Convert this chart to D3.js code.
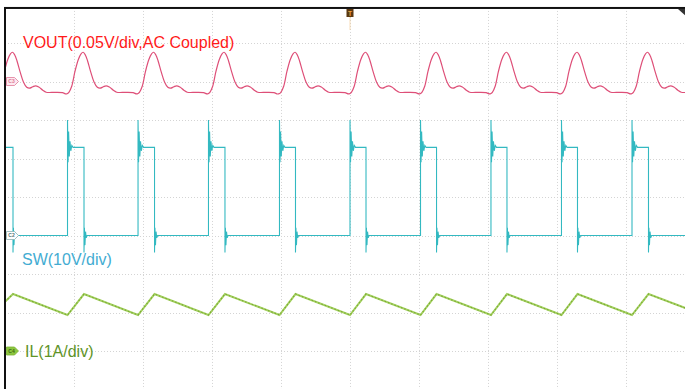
<!DOCTYPE html>
<html><head><meta charset="utf-8">
<script src="https://cdn.jsdelivr.net/npm/d3@7"></script>
<style>body{margin:0;background:#fff;overflow:hidden} svg{display:block}</style>
</head><body><svg id="c" width="685" height="389"></svg>
<script>
// time in divisions (10 div across the screen), amplitudes in channel units
const risingEdges  = [-0.117, 0.906, 1.928, 2.949, 3.978, 5.000, 6.022, 7.043, 8.065, 9.087];
const fallingEdges = [0.116, 1.145, 2.167, 3.188, 4.210, 5.232, 6.254, 7.275, 8.297, 9.326];
// SW (V): levels and ringing
const swLow = 0, swHigh = 22.9;
const swRiseRing = [[0,0],[0,30],[0.008,19],[0.016,27],[0.026,20.5],[0.036,24.5],[0.048,22],[0.062,23.4],[0.08,22.9]];
const swFallRing = [[0,22.9],[0,-4.4],[0.006,2],[0.014,-2.5],[0.022,1],[0.032,-0.6],[0.045,0]];
// VOUT (mV, AC coupled) shape of one switching period after each rising edge
const voutShape = [[0,-15.6],[0.02,-14],[0.061,-6.1],[0.109,13.4],[0.157,28.6],[0.196,36],[0.226,38],[0.258,34.5],[0.29,27],[0.336,12.5],[0.384,-0.5],[0.432,-7.5],[0.471,-8.7],[0.519,-6.9],[0.558,-5.6],[0.606,-7.2],[0.664,-11.3],[0.713,-13.9],[0.841,-14.1],[0.949,-14.5],[1.0,-16.2]];
// IL (A) corner points
const ilPoints = [[0,1.28],[0.116,1.48],[0.906,0.935],[1.145,1.48],[1.928,0.935],[2.167,1.48],[2.949,0.935],[3.188,1.48],[3.978,0.935],[4.210,1.48],[5.000,0.935],[5.232,1.48],[6.022,0.935],[6.254,1.48],[7.043,0.935],[7.275,1.48],[8.065,0.935],[8.297,1.48],[9.087,0.935],[9.326,1.48],[10,1.02]];
const channels = ["C3","C2","C4"];
const channelOffsets = [1, 5, 8];       // marker position, divisions from the top gridline
const channelPerDiv = [50, 10, 1];      // mV/div, V/div, A/div
const labels = ["VOUT(0.05V/div,AC Coupled)", "SW(10V/div)", "IL(1A/div)"];

const svg = d3.select("#c");
const x = d3.scaleLinear().domain([0, 10]).range([5, 695]);
const gridY = d3.scaleLinear().domain([0, 8]).range([43, 351]);
const chY = i => v => gridY(channelOffsets[i] - v / channelPerDiv[i]);

const frameTop = gridY(-0.91), frameBottom = gridY(9.93);
svg.append("clipPath").attr("id","clip").append("rect")
  .attr("x", x(0)).attr("y", frameTop).attr("width", x(10)-x(0)).attr("height", frameBottom-frameTop);

// grid
const g = svg.append("g");
g.selectAll("line.v").data(d3.range(1,10)).join("line")
  .attr("x1", d => Math.round(x(d))+0.5).attr("x2", d => Math.round(x(d))+0.5)
  .attr("y1", frameTop).attr("y2", frameBottom)
  .attr("stroke", "#d4d4d4").attr("stroke-dasharray", "1,2");
g.selectAll("line.h").data(d3.range(0,9)).join("line")
  .attr("y1", d => Math.round(gridY(d))+0.5).attr("y2", d => Math.round(gridY(d))+0.5)
  .attr("x1", x(0)).attr("x2", x(10))
  .attr("stroke", "#d4d4d4").attr("stroke-dasharray", "1,2");

// build series
const voutData = [];
risingEdges.forEach(r => voutShape.forEach(([dt, v]) => voutData.push([r + dt, v])));
const swData = [];
risingEdges.forEach((r, k) => {
  swRiseRing.forEach(([dt, v]) => swData.push([r + dt, v]));
  const f = fallingEdges[k];
  swData.push([f, swHigh]);
  swFallRing.forEach(([dt, v]) => swData.push([f + dt, v]));
  const nr = k + 1 < risingEdges.length ? risingEdges[k+1] : 10;
  swData.push([nr, swLow]);
});

const traces = svg.append("g").attr("clip-path", "url(#clip)");
const yV = chY(0), yS = chY(1), yI = chY(2);
traces.append("path").datum(voutData)
  .attr("d", d3.line().x(d => x(d[0])).y(d => yV(d[1])).curve(d3.curveCatmullRom.alpha(0.5)))
  .attr("fill","none").attr("stroke","#de4f78").attr("stroke-width",1.2);
traces.append("path").datum(swData)
  .attr("d", d3.line().x(d => x(d[0])).y(d => yS(d[1])))
  .attr("fill","none").attr("stroke","#33b9c1").attr("stroke-width",1.1);
traces.append("path").datum(ilPoints)
  .attr("d", d3.line().x(d => x(d[0])).y(d => yI(d[1])))
  .attr("fill","none").attr("stroke","#a4d160").attr("stroke-width",2);
traces.append("path").datum(ilPoints)
  .attr("d", d3.line().x(d => x(d[0])).y(d => yI(d[1])))
  .attr("fill","none").attr("stroke","#7aa834").attr("stroke-width",1.1).attr("stroke-dasharray","1.5,2");

// frame
svg.append("rect").attr("x", x(0)).attr("y", frameTop).attr("width", x(10)-x(0)).attr("height", frameBottom-frameTop)
  .attr("fill","none").attr("stroke","#111").attr("stroke-width",2);

// channel markers
const markerFill = ["#fde9ef", "#ffffff", "#8cc63f"];
const markerStroke = ["#e07a98", "#8fb3b3", "#7bb332"];
const markerText = ["#e07a98", "#557777", "#3d6a12"];
channels.forEach((c, i) => {
  const cy = gridY(channelOffsets[i]);
  const mg = svg.append("g").attr("transform", `translate(${x(0)+1.5},${cy})`);
  mg.append("path").attr("d","M0,-4 L8,-4 L12,0 L8,4 L0,4 Z")
    .attr("fill", markerFill[i]).attr("stroke", markerStroke[i]).attr("stroke-width",0.8);
  mg.append("text").attr("x",5).attr("y",1.8).attr("text-anchor","middle")
    .attr("font-family","Liberation Sans, Arial, sans-serif").attr("font-size",5).attr("font-weight","bold")
    .attr("fill", markerText[i]).text(c);
});

// trigger marker
const tx = x(5);
svg.append("line").attr("x1",tx).attr("x2",tx).attr("y1",17).attr("y2",30)
  .attr("stroke","#f6c98c").attr("stroke-width",1).attr("opacity",0.6);
svg.append("rect").attr("x",tx-3.5).attr("y",9).attr("width",7).attr("height",8).attr("fill","#5b3810");
svg.append("text").attr("x",tx).attr("y",15.5).attr("text-anchor","middle")
  .attr("font-family","Liberation Sans, Arial, sans-serif").attr("font-size",6.5).attr("font-weight","bold")
  .attr("fill","#f0a040").text("T");
// top-right corner marker
svg.append("path").attr("d","M678,9 L686,9 L686,16 Z").attr("fill","#333");

// labels
const labelPos = [[23,48],[22,265],[25,357]];
const labelColor = ["#ff1a1a","#43acd2","#5f9428"];
labels.forEach((t, i) => {
  svg.append("text").attr("x", labelPos[i][0]).attr("y", labelPos[i][1])
    .attr("font-family","Liberation Sans, Arial, sans-serif").attr("font-size",16)
    .attr("fill", labelColor[i]).text(t);
});
</script></body></html>
